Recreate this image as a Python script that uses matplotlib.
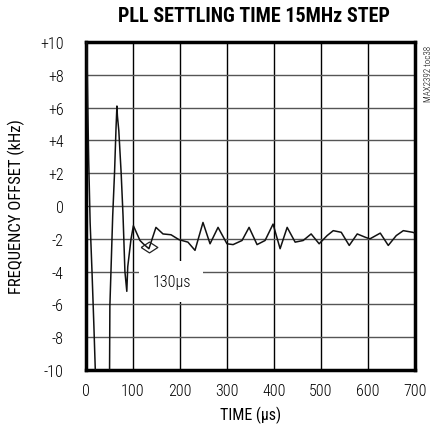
import numpy as np
import matplotlib
matplotlib.use('Agg')
import matplotlib.pyplot as plt

plt.rcParams['font.family'] = ['Roboto Condensed', 'DejaVu Sans']
plt.rcParams['font.weight'] = 'light'

# ----------------------------------------------------------------------
#   Data
# ----------------------------------------------------------------------

time_us = [0, 2, 4, 6, 9, 13, 17, 20, 22, 49, 50, 51, 57, 61, 64, 66, 67, 70,
           75, 79, 83, 87, 89, 96, 101, 115, 122, 134, 149, 164, 181, 198,
           217, 232, 249, 264, 281, 300, 313, 332, 347, 364, 381, 398, 413,
           428, 445, 462, 479, 496, 513, 526, 543, 560, 577, 594, 604, 626,
           643, 660, 675, 695, 700]
offset_khz = [10, 10, 6.1, 2.7, -1.0, -4.0, -7.3, -10, -12, -12, -12, -6.1,
              -0.6, 2.1, 4.7, 6.1, 5.5, 4.6, 2.0, -0.6, -4.0, -5.2, -3.7,
              -2.0, -1.2, -2.1, -2.3, -2.6, -1.3, -1.7, -1.75, -2.05, -2.2,
              -2.7, -1.0, -2.3, -1.3, -2.3, -2.35, -2.1, -1.3, -2.35, -2.1,
              -1.1, -2.6, -1.3, -2.2, -2.1, -1.7, -2.3, -1.8, -1.5, -1.6,
              -2.4, -1.7, -1.9, -2.0, -1.65, -2.4, -1.8, -1.5, -1.6, -1.65]

settle_t = 134
settle_y = -2.5

xticks = [0, 100, 200, 300, 400, 500, 600, 700]
yticks = [-10, -8, -6, -4, -2, 0, 2, 4, 6, 8, 10]
ytick_labels = ['-10', '-8', '-6', '-4', '-2', '0', '+2', '+4', '+6', '+8', '+10']

# ----------------------------------------------------------------------
#   Plot
# ----------------------------------------------------------------------

fig = plt.figure(figsize=(4.36, 4.35), dpi=100)
ax = fig.add_axes([0.197, 0.147, 0.755, 0.754])

for x in xticks[1:-1]:
    ax.axvline(x, color='black', lw=1.0, zorder=1)
for y in yticks[1:-1]:
    ax.axhline(y, color='#555555', lw=1.0, zorder=1)

ax.plot(time_us, offset_khz, color='#111111', lw=1.1, zorder=3)

# wide, flat diamond marking the settle point
diamond = [(-1, 0), (0, 0.65), (1, 0), (0, -0.65), (-1, 0)]
ax.plot([settle_t], [settle_y], marker=diamond, ms=12, mfc='none',
        mec='#222222', mew=0.9, zorder=4)

ax.text(141, -4.6, '130µs', fontsize=11.5, ha='left', va='center', zorder=2,
        bbox=dict(boxstyle='square,pad=0.8', fc='white', ec='none'))

ax.set_xlim(0, 700)
ax.set_ylim(-10, 10)
ax.set_xticks(xticks)
ax.set_yticks(yticks)
ax.set_yticklabels(ytick_labels)
ax.tick_params(length=0, labelsize=11.5, pad=16)
ax.tick_params(axis='x', pad=9)

for sp in ax.spines.values():
    sp.set_linewidth(2.5)

ax.set_xlabel('TIME (µs)', fontsize=11.5, labelpad=6)
ax.set_ylabel('FREQUENCY OFFSET (kHz)', fontsize=12, labelpad=11)

fig.text(0.582, 0.962, 'PLL SETTLING TIME 15MHz STEP', ha='center',
         va='center', fontsize=14.5, fontweight='heavy')
fig.text(0.982, 0.83, 'MAX2392 toc38', rotation=90, ha='center',
         va='center', fontsize=6.5)

plt.savefig('out.png', dpi=100)
plt.close()
